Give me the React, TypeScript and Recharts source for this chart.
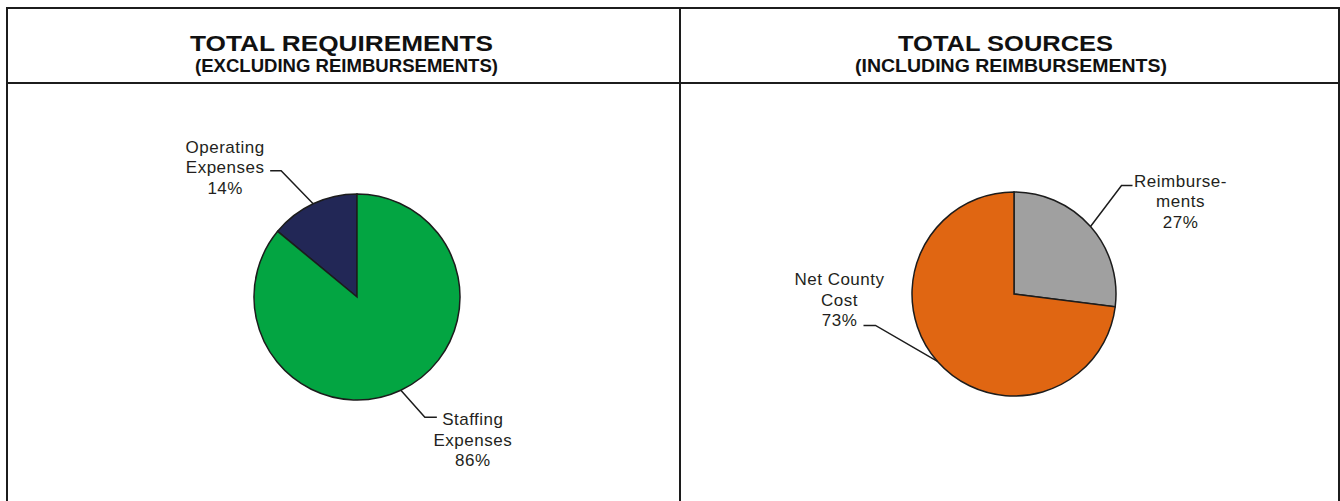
import { PieChart, Pie, Cell } from 'recharts';

// chart data
const requirementNames = ['Operating Expenses', 'Staffing Expenses'];
const requirementValues = [14, 86];
const requirementLines = [['Operating', 'Expenses'], ['Staffing', 'Expenses']];
const requirementColors = ['#222756', '#03a542'];

const sourceNames = ['Reimbursements', 'Net County Cost'];
const sourceValues = [27, 73];
const sourceLines = [['Reimburse-', 'ments'], ['Net County', 'Cost']];
const sourceColors = ['#a0a0a0', '#e06612'];

const RADIAN = Math.PI / 180;
const INK = '#1c1c1c';
const FONT = '"Liberation Sans", Arial, Helvetica, sans-serif';
const NO_MARGIN = { top: 0, right: 0, bottom: 0, left: 0 };

// label layout: elbow offset from slice edge, tail length, text offset from tail end
type LabelLayout = { ex: number; ey: number; tail: number; tx: number; ty: number };
const requirementLayout: LabelLayout[] = [
    { ex: -32, ey: -33, tail: -11, tx: -45, ty: -18 },
    { ex: 24, ey: 27, tail: 12, tx: 36, ty: 8 },
];
const sourceLayout: LabelLayout[] = [
    { ex: 31, ey: -41, tail: 11, tx: 48, ty: 1 },
    { ex: -62, ey: -36, tail: -12, tx: -24, ty: -40 },
];

function makeLabel(lines: string[][], layout: LabelLayout[]) {
    return (props: any) => {
        const { cx, cy, midAngle, outerRadius, index, percent } = props;
        const lay = layout[index];
        const x0 = cx + outerRadius * Math.cos(-midAngle * RADIAN);
        const y0 = cy + outerRadius * Math.sin(-midAngle * RADIAN);
        const x1 = x0 + lay.ex;
        const y1 = y0 + lay.ey;
        const x2 = x1 + lay.tail;
        const tx = x2 + lay.tx;
        const ty = y1 + lay.ty;
        const rows = [...lines[index], `${Math.round(percent * 100)}%`];
        return (
            <g key={`lbl-${index}`}>
                <polyline points={`${x0},${y0} ${x1},${y1} ${x2},${y1}`} fill="none" stroke={INK} strokeWidth={1.5} />
                {rows.map((r, i) => (
                    <text
                        key={i}
                        x={tx}
                        y={ty + i * 20.5}
                        textAnchor="middle"
                        fontFamily={FONT}
                        fontSize={17}
                        letterSpacing={0.5}
                        fill="#231f20"
                    >
                        {r}
                    </text>
                ))}
            </g>
        );
    };
}

const line = (s: React.CSSProperties): React.CSSProperties => ({ position: 'absolute', background: INK, ...s });

export default function App() {
    const reqData = requirementNames.map((name, i) => ({ name, value: requirementValues[i] }));
    const srcData = sourceNames.map((name, i) => ({ name, value: sourceValues[i] }));

    return (
        <div style={{ position: 'absolute', left: 0, top: 0, width: 1340, height: 501, overflow: 'hidden', background: '#fff' }}>
            {/* frame */}
            <div style={line({ left: 6, top: 7, width: 1334, height: 2 })} />
            <div style={line({ left: 6, top: 82, width: 1334, height: 2 })} />
            <div style={line({ left: 6, top: 7, width: 2, height: 494 })} />
            <div style={line({ left: 679, top: 7, width: 2, height: 494 })} />
            <div style={line({ left: 1338, top: 7, width: 2, height: 494 })} />

            {/* headers */}
            <svg width={1340} height={84} style={{ position: 'absolute', left: 0, top: 0 }}>
                <g fontFamily={FONT} fontWeight="bold" fill="#111" textAnchor="middle">
                    <text x={341.5} y={51} fontSize={22.5} textLength={303} lengthAdjust="spacingAndGlyphs">TOTAL REQUIREMENTS</text>
                    <text x={346.5} y={72} fontSize={18.5} textLength={303} lengthAdjust="spacingAndGlyphs">(EXCLUDING REIMBURSEMENTS)</text>
                    <text x={1005.5} y={51} fontSize={22.5} textLength={215} lengthAdjust="spacingAndGlyphs">TOTAL SOURCES</text>
                    <text x={1011} y={72} fontSize={18.5} textLength={312} lengthAdjust="spacingAndGlyphs">(INCLUDING REIMBURSEMENTS)</text>
                </g>
            </svg>

            <div style={{ position: 'absolute', left: 8, top: 84 }}>
                <PieChart width={671} height={417} margin={NO_MARGIN}>
                    <Pie
                        data={reqData}
                        dataKey="value"
                        nameKey="name"
                        cx={349}
                        cy={213}
                        outerRadius={103}
                        startAngle={90}
                        endAngle={450}
                        stroke={INK}
                        strokeWidth={1.5}
                        labelLine={false}
                        label={makeLabel(requirementLines, requirementLayout)}
                        isAnimationActive={false}
                    >
                        {reqData.map((d, i) => (
                            <Cell key={d.name} fill={requirementColors[i]} />
                        ))}
                    </Pie>
                </PieChart>
            </div>

            <div style={{ position: 'absolute', left: 681, top: 84 }}>
                <PieChart width={657} height={417} margin={NO_MARGIN}>
                    <Pie
                        data={srcData}
                        dataKey="value"
                        nameKey="name"
                        cx={333}
                        cy={210}
                        outerRadius={102}
                        startAngle={90}
                        endAngle={-270}
                        stroke={INK}
                        strokeWidth={1.5}
                        labelLine={false}
                        label={makeLabel(sourceLines, sourceLayout)}
                        isAnimationActive={false}
                    >
                        {srcData.map((d, i) => (
                            <Cell key={d.name} fill={sourceColors[i]} />
                        ))}
                    </Pie>
                </PieChart>
            </div>
        </div>
    );
}
